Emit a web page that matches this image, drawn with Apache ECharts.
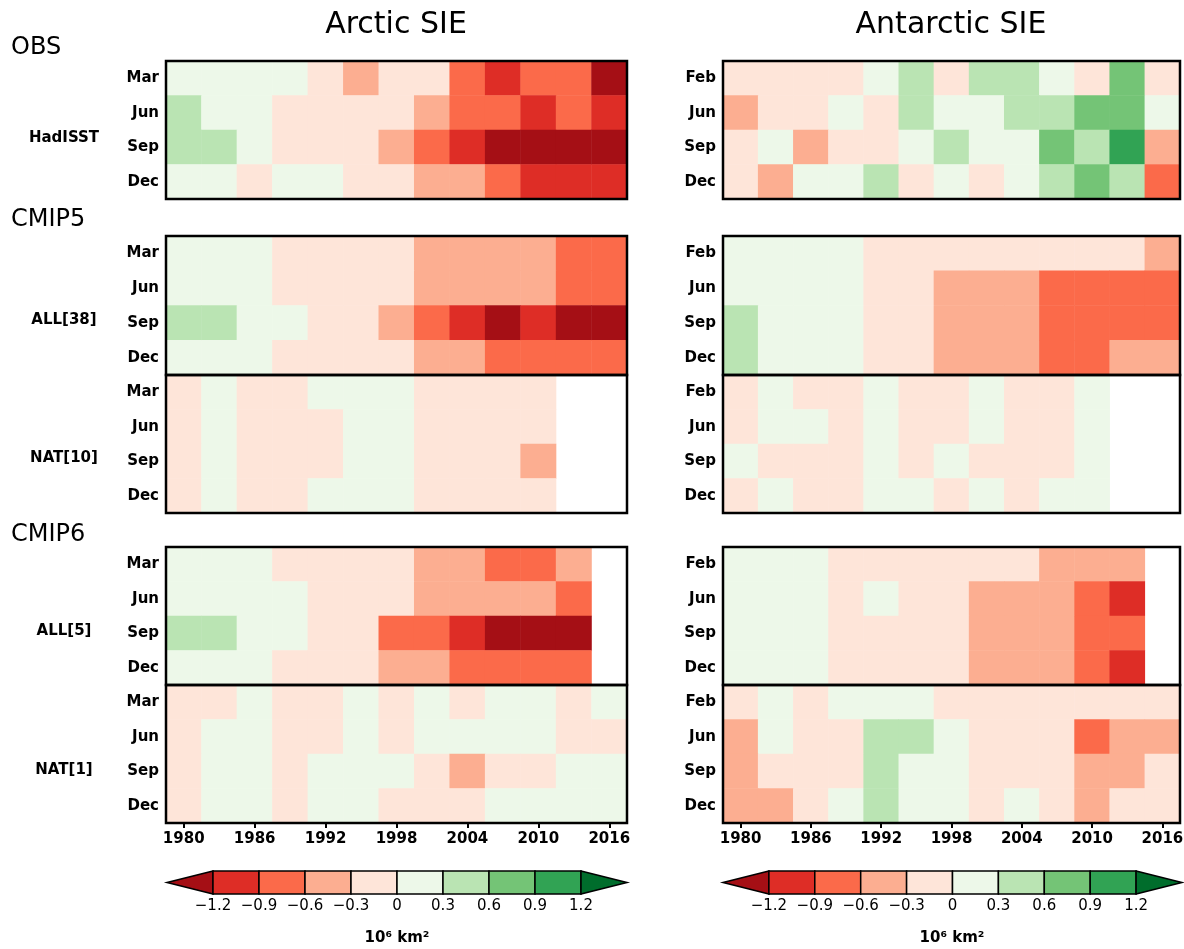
<!DOCTYPE html>
<html>
<head>
<meta charset="utf-8">
<script src="https://cdn.jsdelivr.net/npm/echarts@6/dist/echarts.min.js"></script>
<style>
  html, body { margin: 0; padding: 0; background: #fff; }
  #chart { width: 1184px; height: 949px; }
</style>
</head>
<body>
<div id="chart"></div>
<script>
// 3-year bins, labelled by centre year
const years = ["1980", "1983", "1986", "1989", "1992", "1995", "1998", "2001", "2004", "2007", "2010", "2013", "2016"];
const arcMonths = ["Mar", "Jun", "Sep", "Dec"];
const antMonths = ["Feb", "Jun", "Sep", "Dec"];

// SIE anomaly (10^6 km2), rows = months, cols = year bins, null = no data
const arcObs = [
  [0.1, 0.1, 0.1, 0.1, -0.1, -0.4, -0.1, -0.1, -0.7, -1.0, -0.7, -0.7, -1.3],
  [0.4, 0.1, 0.1, -0.1, -0.1, -0.1, -0.1, -0.4, -0.7, -0.7, -1.0, -0.7, -1.0],
  [0.4, 0.4, 0.1, -0.1, -0.1, -0.1, -0.4, -0.7, -1.0, -1.3, -1.3, -1.3, -1.3],
  [0.1, 0.1, -0.1, 0.1, 0.1, -0.1, -0.1, -0.4, -0.4, -0.7, -1.0, -1.0, -1.0]
];
const arcCmip5All = [
  [0.1, 0.1, 0.1, -0.1, -0.1, -0.1, -0.1, -0.4, -0.4, -0.4, -0.4, -0.7, -0.7],
  [0.1, 0.1, 0.1, -0.1, -0.1, -0.1, -0.1, -0.4, -0.4, -0.4, -0.4, -0.7, -0.7],
  [0.4, 0.4, 0.1, 0.1, -0.1, -0.1, -0.4, -0.7, -1.0, -1.3, -1.0, -1.3, -1.3],
  [0.1, 0.1, 0.1, -0.1, -0.1, -0.1, -0.1, -0.4, -0.4, -0.7, -0.7, -0.7, -0.7]
];
const arcCmip5Nat = [
  [-0.1, 0.1, -0.1, -0.1, 0.1, 0.1, 0.1, -0.1, -0.1, -0.1, -0.1, null, null],
  [-0.1, 0.1, -0.1, -0.1, -0.1, 0.1, 0.1, -0.1, -0.1, -0.1, -0.1, null, null],
  [-0.1, 0.1, -0.1, -0.1, -0.1, 0.1, 0.1, -0.1, -0.1, -0.1, -0.4, null, null],
  [-0.1, 0.1, -0.1, -0.1, 0.1, 0.1, 0.1, -0.1, -0.1, -0.1, -0.1, null, null]
];
const arcCmip6All = [
  [0.1, 0.1, 0.1, -0.1, -0.1, -0.1, -0.1, -0.4, -0.4, -0.7, -0.7, -0.4, null],
  [0.1, 0.1, 0.1, 0.1, -0.1, -0.1, -0.1, -0.4, -0.4, -0.4, -0.4, -0.7, null],
  [0.4, 0.4, 0.1, 0.1, -0.1, -0.1, -0.7, -0.7, -1.0, -1.3, -1.3, -1.3, null],
  [0.1, 0.1, 0.1, -0.1, -0.1, -0.1, -0.4, -0.4, -0.7, -0.7, -0.7, -0.7, null]
];
const arcCmip6Nat = [
  [-0.1, -0.1, 0.1, -0.1, -0.1, 0.1, -0.1, 0.1, -0.1, 0.1, 0.1, -0.1, 0.1],
  [-0.1, 0.1, 0.1, -0.1, -0.1, 0.1, -0.1, 0.1, 0.1, 0.1, 0.1, -0.1, -0.1],
  [-0.1, 0.1, 0.1, -0.1, 0.1, 0.1, 0.1, -0.1, -0.4, -0.1, -0.1, 0.1, 0.1],
  [-0.1, 0.1, 0.1, -0.1, 0.1, 0.1, -0.1, -0.1, -0.1, 0.1, 0.1, 0.1, 0.1]
];
const antObs = [
  [-0.1, -0.1, -0.1, -0.1, 0.1, 0.4, -0.1, 0.4, 0.4, 0.1, -0.1, 0.7, -0.1],
  [-0.4, -0.1, -0.1, 0.1, -0.1, 0.4, 0.1, 0.1, 0.4, 0.4, 0.7, 0.7, 0.1],
  [-0.1, 0.1, -0.4, -0.1, -0.1, 0.1, 0.4, 0.1, 0.1, 0.7, 0.4, 1.0, -0.4],
  [-0.1, -0.4, 0.1, 0.1, 0.4, -0.1, 0.1, -0.1, 0.1, 0.4, 0.7, 0.4, -0.7]
];
const antCmip5All = [
  [0.1, 0.1, 0.1, 0.1, -0.1, -0.1, -0.1, -0.1, -0.1, -0.1, -0.1, -0.1, -0.4],
  [0.1, 0.1, 0.1, 0.1, -0.1, -0.1, -0.4, -0.4, -0.4, -0.7, -0.7, -0.7, -0.7],
  [0.4, 0.1, 0.1, 0.1, -0.1, -0.1, -0.4, -0.4, -0.4, -0.7, -0.7, -0.7, -0.7],
  [0.4, 0.1, 0.1, 0.1, -0.1, -0.1, -0.4, -0.4, -0.4, -0.7, -0.7, -0.4, -0.4]
];
const antCmip5Nat = [
  [-0.1, 0.1, -0.1, -0.1, 0.1, -0.1, -0.1, 0.1, -0.1, -0.1, 0.1, null, null],
  [-0.1, 0.1, 0.1, -0.1, 0.1, -0.1, -0.1, 0.1, -0.1, -0.1, 0.1, null, null],
  [0.1, -0.1, -0.1, -0.1, 0.1, -0.1, 0.1, -0.1, -0.1, -0.1, 0.1, null, null],
  [-0.1, 0.1, -0.1, -0.1, 0.1, 0.1, -0.1, 0.1, -0.1, 0.1, 0.1, null, null]
];
const antCmip6All = [
  [0.1, 0.1, 0.1, -0.1, -0.1, -0.1, -0.1, -0.1, -0.1, -0.4, -0.4, -0.4, null],
  [0.1, 0.1, 0.1, -0.1, 0.1, -0.1, -0.1, -0.4, -0.4, -0.4, -0.7, -1.0, null],
  [0.1, 0.1, 0.1, -0.1, -0.1, -0.1, -0.1, -0.4, -0.4, -0.4, -0.7, -0.7, null],
  [0.1, 0.1, 0.1, -0.1, -0.1, -0.1, -0.1, -0.4, -0.4, -0.4, -0.7, -1.0, null]
];
const antCmip6Nat = [
  [-0.1, 0.1, -0.1, 0.1, 0.1, 0.1, -0.1, -0.1, -0.1, -0.1, -0.1, -0.1, -0.1],
  [-0.4, 0.1, -0.1, -0.1, 0.4, 0.4, 0.1, -0.1, -0.1, -0.1, -0.7, -0.4, -0.4],
  [-0.4, -0.1, -0.1, -0.1, 0.4, 0.1, 0.1, -0.1, -0.1, -0.1, -0.4, -0.4, -0.1],
  [-0.4, -0.4, -0.1, 0.1, 0.4, 0.1, 0.1, -0.1, 0.1, -0.1, -0.4, -0.1, -0.1]
];

// colour levels
const cbLevels = [-1.5, -1.2, -0.9, -0.6, -0.3, 0, 0.3, 0.6, 0.9, 1.2, 1.5];
const cbColors = ["#a50f15", "#de2d26", "#fb6a4a", "#fcae91", "#fee5d9", "#edf8e9", "#bae4b3", "#74c476", "#31a354", "#006d2c"];

const FONT = "DejaVu Sans, Verdana, sans-serif";

const cols = [
  { left: 166, width: 461, months: arcMonths, panels: [arcObs, arcCmip5All, arcCmip5Nat, arcCmip6All, arcCmip6Nat] },
  { left: 723, width: 457, months: antMonths, panels: [antObs, antCmip5All, antCmip5Nat, antCmip6All, antCmip6Nat] }
];
const rowsPos = [
  { top: 61, height: 138 },
  { top: 236, height: 139 },
  { top: 375, height: 138 },
  { top: 547, height: 138 },
  { top: 685, height: 138 }
];

let grids = [], xAxes = [], yAxes = [], series = [];

cols.forEach((c) => {
  c.panels.forEach((vals, p) => {
    const gi = grids.length;
    const bottom = p === 4;
    grids.push({
      left: c.left, top: rowsPos[p].top, width: c.width, height: rowsPos[p].height,
      show: true, borderColor: "#000", borderWidth: 2.5, backgroundColor: "transparent",
      z: 10, containLabel: false, outerBoundsMode: "none"
    });
    xAxes.push({
      type: "category", gridIndex: gi, data: years,
      axisLine: { show: false },
      axisTick: { show: bottom, alignWithLabel: true, interval: 1, length: 5, lineStyle: { color: "#000", width: 2 } },
      axisLabel: { show: bottom, interval: 1, margin: 9, color: "#000", fontFamily: FONT, fontWeight: "bold", fontSize: 15 },
      splitLine: { show: false }
    });
    yAxes.push({
      type: "category", gridIndex: gi, data: c.months, inverse: true,
      axisLine: { show: false }, axisTick: { show: false },
      axisLabel: { margin: 7, color: "#000", fontFamily: FONT, fontWeight: "bold", fontSize: 15 },
      splitLine: { show: false }
    });
    const data = [];
    vals.forEach((row, j) => row.forEach((v, i) => {
      if (v !== null) data.push([i, j, v]);
    }));
    series.push({
      type: "heatmap", xAxisIndex: gi, yAxisIndex: gi, data: data,
      itemStyle: { borderWidth: 0 }, emphasis: { disabled: true }, silent: true
    });
  });
});

const nHeat = series.length;

// colour bars
const cbGeom = [{ left: 167, width: 460 }, { left: 723, width: 459 }];
const cbData = cbColors.map((col, k) => [cbLevels[k], cbLevels[k + 1], k]);
cbGeom.forEach((g) => {
  const gi = grids.length;
  grids.push({ left: g.left, top: 871, width: g.width, height: 23, show: false, containLabel: false, outerBoundsMode: "none" });
  xAxes.push({
    type: "value", gridIndex: gi, min: -1.5, max: 1.5, interval: 0.3,
    axisLine: { show: false }, axisTick: { show: false }, splitLine: { show: false },
    axisLabel: {
      margin: 5, color: "#000", fontFamily: FONT, fontSize: 15,
      formatter: (v) => {
        if (Math.abs(Math.abs(v) - 1.5) < 1e-6) return "";
        if (Math.abs(v) < 1e-6) return "0";
        return (v < 0 ? "\u2212" : "") + Math.abs(v).toFixed(1);
      }
    }
  });
  yAxes.push({ type: "value", gridIndex: gi, min: 0, max: 1, show: false });
  series.push({
    type: "custom", xAxisIndex: gi, yAxisIndex: gi, data: cbData, silent: true,
    renderItem: (params, api) => {
      const k = api.value(2);
      const a = api.coord([api.value(0), 0]);
      const b = api.coord([api.value(1), 1]);
      const mid = (a[1] + b[1]) / 2;
      const style = { fill: cbColors[k], stroke: "#000", lineWidth: 1.5 };
      if (k === 0) {
        return { type: "polygon", shape: { points: [[a[0], mid], [b[0], b[1]], [b[0], a[1]]] }, style };
      }
      if (k === cbColors.length - 1) {
        return { type: "polygon", shape: { points: [[a[0], b[1]], [b[0], mid], [a[0], a[1]]] }, style };
      }
      return { type: "rect", shape: { x: a[0], y: b[1], width: b[0] - a[0], height: a[1] - b[1] }, style };
    }
  });
});

const pieces = cbColors.map((col, k) => {
  const p = { color: col };
  if (k > 0) p.gte = cbLevels[k];
  if (k < cbColors.length - 1) p.lt = cbLevels[k + 1];
  return p;
});

function txt(text, x, y, size, weight, align) {
  return {
    type: "text", x: x, y: y, silent: true,
    style: { text: text, font: weight + " " + size + "px " + FONT, fill: "#000", textAlign: align || "center", textVerticalAlign: "middle" }
  };
}

const graphics = [
  txt("Arctic SIE", 396, 25, 30, "normal"),
  txt("Antarctic SIE", 951, 25, 30, "normal"),
  txt("OBS", 11, 48, 24, "normal", "left"),
  txt("CMIP5", 11, 220, 24, "normal", "left"),
  txt("CMIP6", 11, 535, 24, "normal", "left"),
  txt("HadISST", 64, 138, 15, "bold"),
  txt("ALL[38]", 64, 320, 15, "bold"),
  txt("NAT[10]", 64, 458, 15, "bold"),
  txt("ALL[5]", 64, 631, 15, "bold"),
  txt("NAT[1]", 64, 770, 15, "bold"),
  txt("10\u2076 km\u00b2", 397, 938, 15, "bold"),
  txt("10\u2076 km\u00b2", 952, 938, 15, "bold")
];

const chart = echarts.init(document.getElementById("chart"), null, { renderer: "canvas" });
chart.setOption({
  backgroundColor: "#fff",
  animation: false,
  grid: grids,
  xAxis: xAxes,
  yAxis: yAxes,
  visualMap: {
    type: "piecewise", show: false, dimension: 2,
    seriesIndex: Array.from({ length: nHeat }, (_, i) => i),
    pieces: pieces
  },
  graphic: graphics,
  series: series
});
</script>
</body>
</html>
